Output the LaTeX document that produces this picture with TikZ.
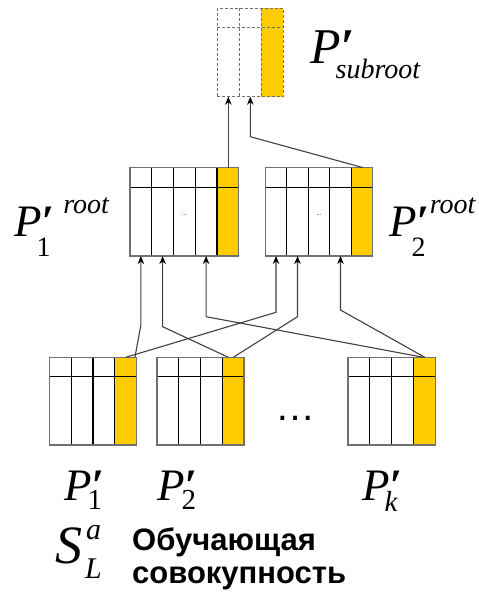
\documentclass[tikz,border=0pt]{standalone}
\usepackage{fontspec}
\setmainfont{Liberation Serif}
\newfontfamily\arialfont{Liberation Sans}
\usetikzlibrary{calc,arrows.meta}
\definecolor{yel}{HTML}{FFCC00}
\definecolor{bord}{HTML}{707070}
\definecolor{lnk}{HTML}{404040}
\tikzset{
  plainout/.style={draw=bord, line width=1.3pt},
  plainsep/.style={draw=black, line width=1.1pt},
  dashout/.style={draw=bord, line width=1pt, dash pattern=on 3pt off 2pt},
  dashsep/.style={draw=bord, line width=1pt, dash pattern=on 3pt off 2pt},
  boxnode/.style={inner sep=0pt, outer sep=0pt},
  linkr/.style={draw=lnk, line width=1.1pt, {Stealth[length=8pt,width=6.5pt,inset=2.5pt,color=black]}-},
  lab/.style={inner sep=0pt, anchor=base west},
}
% #1 style prefix, #2 name, #3 x, #4 y, #5 w, #6 h, #7 cols, #8 header height
\newcommand\tabbox[8][plain]{%
  \fill[yel] ({#3+#5-#5/#7},#4) rectangle ({#3+#5},{#4+#6});
  \pgfmathtruncatemacro\ncm{#7-1}%
  \foreach \i in {1,...,\ncm} {\draw[#1sep] ({#3+\i*#5/#7},#4) -- ++(0,#6);}
  \draw[#1sep] (#3,{#4+#8}) -- ++(#5,0);
  \node[#1out, boxnode, minimum width=#5pt, minimum height=#6pt, anchor=north west] (#2) at (#3,#4) {};
}
\newcommand\pr{{\bfseries ′}}
% #1 size, #2 letter, #3 prime, #4 script size, #5 sub, #6 drop, #7 sup, #8 raise
\newcommand\plab[8]{%
  \fontsize{#1}{#1}\selectfont\itshape #2%
  \rlap{\raisebox{-#6em}{\fontsize{#4}{#4}\selectfont #5}}%
  #3\raisebox{#8em}{\fontsize{#4}{#4}\selectfont #7}%
}
\begin{document}
\begin{tikzpicture}[x=1pt,y=-1pt]
\useasboundingbox (0,0) rectangle (479,595);

\tabbox[dash]{sr}{217.3}{8.3}{66}{88.4}{3}{19.4}
\tabbox{r1}{130}{167.7}{108.7}{88.3}{5}{19.6}
\tabbox{r2}{265.3}{167.7}{107.4}{88.3}{5}{19.6}
\tabbox{b1}{49.3}{357.3}{87.4}{87.7}{4}{19}
\tabbox{b2}{157}{357.3}{87}{87.7}{4}{19}
\tabbox{b3}{348}{357.3}{87.3}{87.7}{4}{19}

\node[inner sep=0pt, font=\arialfont\fontsize{6}{6}\selectfont] (d1) at ($(r1.center)+(0,3)$) {...};
\node[inner sep=0pt, font=\arialfont\fontsize{6}{6}\selectfont] (d2) at ($(r2.center)+(0,3)$) {...};
\node[inner sep=0pt, font=\arialfont\fontsize{40}{40}\selectfont] (dots) at (295.5,418) {…};

% entry points
\coordinate (r1i1) at ($(r1.south west)!0.1!(r1.south east)$);
\coordinate (r1i2) at ($(r1.south west)!0.3!(r1.south east)$);
\coordinate (r1i4) at ($(r1.south west)!0.7!(r1.south east)$);
\coordinate (r2i1) at ($(r2.south west)!0.1!(r2.south east)$);
\coordinate (r2i2) at ($(r2.south west)!0.3!(r2.south east)$);
\coordinate (r2i4) at ($(r2.south west)!0.7!(r2.south east)$);
\coordinate (sri1) at ($(sr.south west)!0.1667!(sr.south east)$);
\coordinate (sri2) at ($(sr.south west)!0.5!(sr.south east)$);

\draw[linkr] (r1i1) -- ++(0,69) -- ($(b1.north west)!0.98!(b1.north east)$);
\draw[linkr] (r2i1) -- ++(0,56.3) -- ($(b1.north west)!0.875!(b1.north east)$);
\draw[linkr] (r1i2) -- ++(0,70.7) -- ($(b2.north west)!0.82!(b2.north east)$);
\draw[linkr] (r2i2) -- ++(0,60.7) -- ($(b2.north west)!0.877!(b2.north east)$);
\draw[linkr] (r1i4) -- ++(0,60.7) -- ($(b3.north west)!0.863!(b3.north east)$);
\draw[linkr] (r2i4) -- ++(0,54) -- ($(b3.north west)!0.88!(b3.north east)$);
\draw[linkr] (sri1) -- (sri1 |- r1.north);
\draw[linkr] (sri2) -- ++(0,40) -- ($(r2.north west)!0.912!(r2.north east)$);

% labels
\node[lab] (lsr) at (310,63) {\plab{50}{P}{\pr}{28}{\kern-5pt subroot}{0.3}{}{0}};
\node[lab] (lr1) at (14,236) {\plab{45}{P}{\pr}{28}{\kern-5pt\upshape 1}{0.45}{\kern9pt root}{0.5}};
\node[lab] (lr2) at (389,236) {\plab{45}{P}{\pr}{28}{\kern-5pt\upshape 2}{0.45}{\kern0.5pt root}{0.5}};
\node[lab] (lb1) at (64,500) {\plab{45}{P}{\pr}{29}{\kern-4pt\upshape 1}{0.22}{}{0}};
\node[lab] (lb2) at (157,500) {\plab{45}{P}{\pr}{29}{\kern-3pt\upshape 2}{0.22}{}{0}};
\node[lab] (lbk) at (362,500) {\plab{45}{P}{\pr}{29}{\kern-5pt k}{0.26}{}{0}};
\node[lab] (ls) at (55,563) {\plab{54}{S}{\kern4pt}{30}{\kern3pt L}{0.28}{a}{0.43}};
\node[lab, align=left, font=\arialfont\bfseries\fontsize{31}{33}\selectfont] (txt) at (132,583) {Обучающая\\совокупность};
\end{tikzpicture}
\end{document}
